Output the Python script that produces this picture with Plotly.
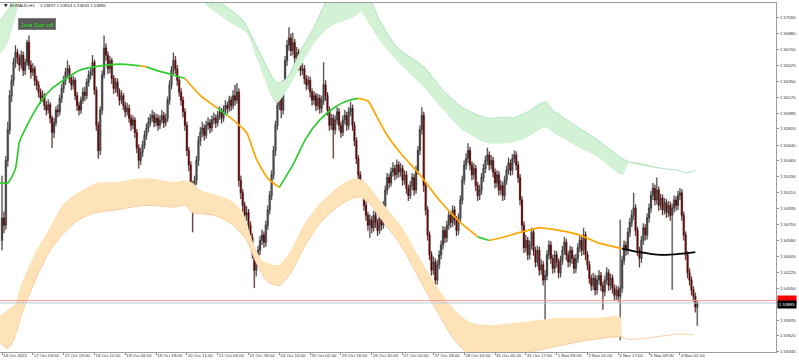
import plotly.graph_objects as go

# ---------------- DATA ----------------
bars = list(range(362))

open_ = [
1.5458,1.5483,1.5475,1.5547,1.5581,1.5619,1.5636,1.5656,1.5667,1.5661,
1.5653,1.5664,1.5647,1.5656,1.5678,1.5653,1.5645,1.5649,1.5636,1.5631,
1.5623,1.5616,1.5619,1.5608,1.5603,1.5609,1.5594,1.5578,1.5589,1.5603,
1.5601,1.5616,1.5627,1.5636,1.5645,1.5649,1.5638,1.5631,1.5636,1.5619,
1.5608,1.5603,1.5614,1.5623,1.5619,1.5634,1.5642,1.5645,1.5656,1.5625,
1.5586,1.5558,1.5603,1.5642,1.5672,1.5664,1.5649,1.5658,1.5638,1.5627,
1.5634,1.5623,1.5614,1.5619,1.5608,1.5601,1.5605,1.5594,1.5586,1.5592,
1.5578,1.5561,1.5547,1.5556,1.5564,1.5575,1.5583,1.5589,1.5594,1.5597,
1.5589,1.5594,1.5586,1.5592,1.5597,1.5589,1.5594,1.5614,1.5631,1.5647,
1.5658,1.5649,1.5636,1.5623,1.5614,1.5601,1.5586,1.5558,1.5542,1.5519,
1.5508,1.5525,1.5547,1.5569,1.5578,1.5583,1.5575,1.5586,1.5589,1.5583,
1.5592,1.5594,1.5589,1.5597,1.5601,1.5594,1.5603,1.5608,1.5605,1.5614,
1.5608,1.5619,1.5614,1.5623,1.5525,1.5511,1.5497,1.5486,1.5489,1.5475,
1.5461,1.5445,1.5425,1.5434,1.5447,1.5458,1.5464,1.5456,1.5475,1.5492,
1.5508,1.5531,1.5558,1.5586,1.5608,1.5619,1.5603,1.5631,1.5658,1.5675,
1.5683,1.5669,1.5678,1.5661,1.5667,1.5653,1.5647,1.5649,1.5638,1.5631,
1.5636,1.5623,1.5614,1.5619,1.5608,1.5616,1.5605,1.5614,1.5631,1.5619,
1.5603,1.5586,1.5594,1.5581,1.5592,1.5601,1.5586,1.5578,1.5592,1.5597,
1.5586,1.5601,1.5605,1.5586,1.5569,1.5549,1.5531,1.5514,1.5519,1.5497,
1.5486,1.5475,1.5481,1.5472,1.5486,1.5478,1.5469,1.5483,1.5475,1.5497,
1.5514,1.5528,1.5522,1.5534,1.5538,1.5531,1.5542,1.5534,1.5538,1.5525,
1.5531,1.5516,1.5508,1.5519,1.5528,1.5514,1.5536,1.5558,1.5581,1.5597,
1.5519,1.5492,1.5464,1.5442,1.5425,1.5434,1.5414,1.5431,1.5442,1.5453,
1.5469,1.5461,1.5475,1.5486,1.5478,1.5492,1.5481,1.5469,1.5483,1.5503,
1.5525,1.5542,1.5549,1.5558,1.5542,1.5531,1.5538,1.5519,1.5508,1.5514,
1.5528,1.5538,1.5547,1.5553,1.5542,1.5547,1.5534,1.5522,1.5531,1.5514,
1.5519,1.5508,1.5525,1.5536,1.5544,1.5536,1.5549,1.5553,1.5542,1.5528,
1.5503,1.5475,1.5450,1.5458,1.5442,1.5453,1.5467,1.5447,1.5434,1.5447,
1.5425,1.5431,1.5414,1.5419,1.5442,1.5453,1.5438,1.5427,1.5442,1.5434,
1.5422,1.5436,1.5447,1.5456,1.5442,1.5434,1.5447,1.5438,1.5427,1.5438,
1.5450,1.5458,1.5447,1.5464,1.5442,1.5431,1.5416,1.5408,1.5416,1.5403,
1.5414,1.5419,1.5408,1.5401,1.5414,1.5422,1.5408,1.5416,1.5405,1.5397,
1.5403,1.5396,1.5405,1.5436,1.5453,1.5447,1.5467,1.5478,1.5486,1.5494,
1.5469,1.5447,1.5438,1.5458,1.5472,1.5464,1.5483,1.5494,1.5508,1.5516,
1.5503,1.5514,1.5497,1.5505,1.5492,1.5500,1.5489,1.5497,1.5486,1.5494,
1.5503,1.5497,1.5508,1.5511,1.5486,1.5464,1.5442,1.5422,1.5414,1.5403,1.5396,1.53837]

high = [
1.5530,1.5490,1.5552,1.5590,1.5625,1.5642,1.5661,1.5675,1.5671,1.5665,
1.5669,1.5668,1.5660,1.5681,1.5686,1.5658,1.5655,1.5652,1.5641,1.5635,
1.5627,1.5625,1.5622,1.5613,1.5615,1.5612,1.5597,1.5594,1.5607,1.5609,
1.5620,1.5632,1.5641,1.5650,1.5658,1.5653,1.5642,1.5641,1.5639,1.5623,
1.5612,1.5618,1.5628,1.5629,1.5638,1.5647,1.5651,1.5664,1.5659,1.5629,
1.5590,1.5607,1.5647,1.5686,1.5677,1.5668,1.5663,1.5661,1.5642,1.5639,
1.5638,1.5627,1.5625,1.5622,1.5612,1.5611,1.5609,1.5598,1.5597,1.5595,
1.5582,1.5565,1.5561,1.5569,1.5580,1.5588,1.5595,1.5599,1.5603,1.5601,
1.5599,1.5598,1.5597,1.5603,1.5601,1.5599,1.5618,1.5636,1.5652,1.5667,
1.5663,1.5653,1.5640,1.5627,1.5618,1.5605,1.5590,1.5562,1.5546,1.5524,
1.5530,1.5552,1.5574,1.5584,1.5590,1.5587,1.5591,1.5595,1.5593,1.5597,
1.5600,1.5598,1.5602,1.5607,1.5605,1.5608,1.5614,1.5612,1.5619,1.5618,
1.5625,1.5631,1.5633,1.5627,1.5530,1.5515,1.5501,1.5496,1.5493,1.5479,
1.5466,1.5449,1.5440,1.5452,1.5463,1.5470,1.5468,1.5480,1.5497,1.5513,
1.5536,1.5563,1.5591,1.5613,1.5626,1.5623,1.5636,1.5663,1.5681,1.5695,
1.5688,1.5689,1.5682,1.5673,1.5671,1.5658,1.5655,1.5653,1.5642,1.5641,
1.5640,1.5627,1.5624,1.5622,1.5621,1.5620,1.5619,1.5656,1.5636,1.5623,
1.5607,1.5599,1.5598,1.5597,1.5606,1.5605,1.5590,1.5597,1.5603,1.5601,
1.5606,1.5612,1.5609,1.5590,1.5573,1.5553,1.5535,1.5525,1.5523,1.5501,
1.5490,1.5487,1.5485,1.5491,1.5490,1.5482,1.5488,1.5487,1.5502,1.5519,
1.5533,1.5532,1.5539,1.5545,1.5542,1.5548,1.5546,1.5544,1.5542,1.5536,
1.5535,1.5520,1.5524,1.5533,1.5532,1.5541,1.5563,1.5586,1.5606,1.5601,
1.5523,1.5496,1.5468,1.5446,1.5440,1.5438,1.5436,1.5447,1.5458,1.5474,
1.5473,1.5480,1.5491,1.5490,1.5497,1.5496,1.5485,1.5488,1.5508,1.5530,
1.5547,1.5555,1.5566,1.5562,1.5546,1.5544,1.5542,1.5523,1.5520,1.5533,
1.5543,1.5552,1.5561,1.5557,1.5553,1.5551,1.5538,1.5536,1.5535,1.5525,
1.5523,1.5530,1.5541,1.5550,1.5548,1.5554,1.5558,1.5557,1.5546,1.5532,
1.5507,1.5479,1.5464,1.5462,1.5458,1.5472,1.5471,1.5451,1.5452,1.5451,
1.5437,1.5435,1.5425,1.5447,1.5458,1.5457,1.5442,1.5447,1.5446,1.5438,
1.5441,1.5452,1.5462,1.5460,1.5446,1.5452,1.5451,1.5442,1.5443,1.5455,
1.5464,1.5462,1.5472,1.5468,1.5446,1.5435,1.5420,1.5422,1.5420,1.5419,
1.5425,1.5423,1.5412,1.5419,1.5428,1.5426,1.5421,1.5420,1.5409,1.5408,
1.5407,1.5481,1.5441,1.5458,1.5457,1.5472,1.5483,1.5492,1.5511,1.5498,
1.5473,1.5451,1.5463,1.5477,1.5476,1.5488,1.5499,1.5513,1.5522,1.5520,
1.5528,1.5518,1.5510,1.5509,1.5505,1.5504,1.5502,1.5501,1.5499,1.5508,
1.5507,1.5513,1.5516,1.5515,1.5490,1.5468,1.5446,1.5427,1.5418,1.5407,1.5400,1.53914]

low = [
1.5447,1.5466,1.5470,1.5540,1.5576,1.5612,1.5630,1.5650,1.5654,1.5646,
1.5649,1.5641,1.5642,1.5652,1.5648,1.5638,1.5641,1.5630,1.5625,1.5617,
1.5610,1.5612,1.5603,1.5597,1.5599,1.5588,1.5561,1.5572,1.5585,1.5595,
1.5597,1.5611,1.5622,1.5631,1.5640,1.5633,1.5625,1.5626,1.5614,1.5602,
1.5597,1.5599,1.5610,1.5613,1.5615,1.5629,1.5637,1.5641,1.5620,1.5580,
1.5549,1.5553,1.5598,1.5638,1.5658,1.5643,1.5644,1.5632,1.5621,1.5622,
1.5618,1.5608,1.5610,1.5603,1.5595,1.5597,1.5589,1.5580,1.5582,1.5572,
1.5555,1.5538,1.5542,1.5551,1.5560,1.5570,1.5578,1.5585,1.5590,1.5584,
1.5585,1.5580,1.5582,1.5588,1.5583,1.5585,1.5590,1.5609,1.5626,1.5642,
1.5643,1.5630,1.5618,1.5608,1.5595,1.5580,1.5552,1.5535,1.5512,1.5467,
1.5500,1.5520,1.5541,1.5563,1.5573,1.5569,1.5571,1.5581,1.5577,1.5579,
1.5587,1.5583,1.5585,1.5592,1.5588,1.5590,1.5598,1.5599,1.5601,1.5602,
1.5604,1.5608,1.5610,1.5518,1.5504,1.5490,1.5479,1.5480,1.5469,1.5454,
1.5438,1.5405,1.5418,1.5429,1.5442,1.5453,1.5450,1.5451,1.5470,1.5487,
1.5503,1.5526,1.5552,1.5581,1.5603,1.5594,1.5598,1.5626,1.5652,1.5669,
1.5663,1.5664,1.5655,1.5656,1.5647,1.5641,1.5642,1.5632,1.5625,1.5626,
1.5617,1.5608,1.5609,1.5602,1.5603,1.5599,1.5600,1.5609,1.5613,1.5597,
1.5580,1.5581,1.5549,1.5576,1.5587,1.5580,1.5572,1.5574,1.5587,1.5580,
1.5581,1.5596,1.5580,1.5563,1.5543,1.5525,1.5508,1.5509,1.5491,1.5480,
1.5469,1.5461,1.5466,1.5468,1.5472,1.5463,1.5465,1.5469,1.5471,1.5492,
1.5509,1.5516,1.5518,1.5529,1.5525,1.5527,1.5528,1.5529,1.5519,1.5520,
1.5510,1.5502,1.5504,1.5514,1.5508,1.5510,1.5531,1.5553,1.5576,1.5512,
1.5486,1.5458,1.5436,1.5419,1.5420,1.5401,1.5409,1.5426,1.5437,1.5448,
1.5455,1.5456,1.5470,1.5472,1.5473,1.5475,1.5463,1.5464,1.5478,1.5498,
1.5520,1.5537,1.5544,1.5536,1.5525,1.5526,1.5513,1.5502,1.5503,1.5509,
1.5523,1.5533,1.5542,1.5536,1.5537,1.5528,1.5516,1.5517,1.5508,1.5509,
1.5502,1.5503,1.5520,1.5531,1.5530,1.5531,1.5544,1.5536,1.5522,1.5497,
1.5469,1.5444,1.5445,1.5436,1.5437,1.5448,1.5441,1.5428,1.5429,1.5419,
1.5420,1.5408,1.5369,1.5414,1.5437,1.5432,1.5421,1.5422,1.5428,1.5416,
1.5417,1.5431,1.5442,1.5436,1.5428,1.5429,1.5432,1.5421,1.5422,1.5433,
1.5445,1.5441,1.5442,1.5436,1.5425,1.5410,1.5402,1.5403,1.5397,1.5398,
1.5409,1.5402,1.5381,1.5396,1.5409,1.5402,1.5403,1.5399,1.5391,1.5392,
1.5390,1.5347,1.5400,1.5431,1.5441,1.5442,1.5462,1.5473,1.5481,1.5463,
1.5441,1.5428,1.5433,1.5453,1.5458,1.5459,1.5478,1.5489,1.5503,1.5497,
1.5498,1.5491,1.5492,1.5486,1.5487,1.5483,1.5484,1.5480,1.5403,1.5489,
1.5491,1.5492,1.5503,1.5480,1.5458,1.5436,1.5416,1.5408,1.5397,1.5390,1.5378,1.53633]

close = [
1.5483,1.5475,1.5547,1.5581,1.5619,1.5636,1.5656,1.5667,1.5661,1.5653,
1.5664,1.5647,1.5656,1.5678,1.5653,1.5645,1.5649,1.5636,1.5631,1.5623,
1.5616,1.5619,1.5608,1.5603,1.5609,1.5594,1.5578,1.5589,1.5603,1.5601,
1.5616,1.5627,1.5636,1.5645,1.5649,1.5638,1.5631,1.5636,1.5619,1.5608,
1.5603,1.5614,1.5623,1.5619,1.5634,1.5642,1.5645,1.5656,1.5625,1.5586,
1.5558,1.5603,1.5642,1.5672,1.5664,1.5649,1.5658,1.5638,1.5627,1.5634,
1.5623,1.5614,1.5619,1.5608,1.5601,1.5605,1.5594,1.5586,1.5592,1.5578,
1.5561,1.5547,1.5556,1.5564,1.5575,1.5583,1.5589,1.5594,1.5597,1.5589,
1.5594,1.5586,1.5592,1.5597,1.5589,1.5594,1.5614,1.5631,1.5647,1.5658,
1.5649,1.5636,1.5623,1.5614,1.5601,1.5586,1.5558,1.5542,1.5519,1.5508,
1.5525,1.5547,1.5569,1.5578,1.5583,1.5575,1.5586,1.5589,1.5583,1.5592,
1.5594,1.5589,1.5597,1.5601,1.5594,1.5603,1.5608,1.5605,1.5614,1.5608,
1.5619,1.5614,1.5623,1.5525,1.5511,1.5497,1.5486,1.5489,1.5475,1.5461,
1.5445,1.5425,1.5434,1.5447,1.5458,1.5464,1.5456,1.5475,1.5492,1.5508,
1.5531,1.5558,1.5586,1.5608,1.5619,1.5603,1.5631,1.5658,1.5675,1.5683,
1.5669,1.5678,1.5661,1.5667,1.5653,1.5647,1.5649,1.5638,1.5631,1.5636,
1.5623,1.5614,1.5619,1.5608,1.5616,1.5605,1.5614,1.5631,1.5619,1.5603,
1.5586,1.5594,1.5581,1.5592,1.5601,1.5586,1.5578,1.5592,1.5597,1.5586,
1.5601,1.5605,1.5586,1.5569,1.5549,1.5531,1.5514,1.5519,1.5497,1.5486,
1.5475,1.5481,1.5472,1.5486,1.5478,1.5469,1.5483,1.5475,1.5497,1.5514,
1.5528,1.5522,1.5534,1.5538,1.5531,1.5542,1.5534,1.5538,1.5525,1.5531,
1.5516,1.5508,1.5519,1.5528,1.5514,1.5536,1.5558,1.5581,1.5597,1.5519,
1.5492,1.5464,1.5442,1.5425,1.5434,1.5414,1.5431,1.5442,1.5453,1.5469,
1.5461,1.5475,1.5486,1.5478,1.5492,1.5481,1.5469,1.5483,1.5503,1.5525,
1.5542,1.5549,1.5558,1.5542,1.5531,1.5538,1.5519,1.5508,1.5514,1.5528,
1.5538,1.5547,1.5553,1.5542,1.5547,1.5534,1.5522,1.5531,1.5514,1.5519,
1.5508,1.5525,1.5536,1.5544,1.5536,1.5549,1.5553,1.5542,1.5528,1.5503,
1.5475,1.5450,1.5458,1.5442,1.5453,1.5467,1.5447,1.5434,1.5447,1.5425,
1.5431,1.5414,1.5419,1.5442,1.5453,1.5438,1.5427,1.5442,1.5434,1.5422,
1.5436,1.5447,1.5456,1.5442,1.5434,1.5447,1.5438,1.5427,1.5438,1.5450,
1.5458,1.5447,1.5464,1.5442,1.5431,1.5416,1.5408,1.5416,1.5403,1.5414,
1.5419,1.5408,1.5401,1.5414,1.5422,1.5408,1.5416,1.5405,1.5397,1.5403,
1.5396,1.5405,1.5436,1.5453,1.5447,1.5467,1.5478,1.5486,1.5494,1.5469,
1.5447,1.5438,1.5458,1.5472,1.5464,1.5483,1.5494,1.5508,1.5516,1.5503,
1.5514,1.5497,1.5505,1.5492,1.5500,1.5489,1.5497,1.5486,1.5494,1.5503,
1.5497,1.5508,1.5511,1.5486,1.5464,1.5442,1.5422,1.5414,1.5403,1.5396,1.5384,1.53885]

for arr in (open_, high, low, close):
    assert len(arr) == len(bars), len(arr)

time_label_bars = [0, 16, 32, 48, 64, 80, 96, 112, 128, 144, 160, 176, 192,
                   208, 224, 240, 256, 272, 288, 304, 320, 336, 352]
time_labels = ["14 Oct 2022", "17 Oct 03:00", "17 Oct 19:00", "18 Oct 11:00",
               "19 Oct 03:00", "19 Oct 19:00", "20 Oct 11:00", "21 Oct 03:00",
               "21 Oct 19:00", "24 Oct 10:00", "25 Oct 02:00", "25 Oct 18:00",
               "26 Oct 10:00", "27 Oct 02:00", "27 Oct 18:00", "28 Oct 10:00",
               "31 Oct 01:00", "31 Oct 17:00", "1 Nov 09:00", "2 Nov 01:00",
               "2 Nov 17:00", "3 Nov 09:00", "4 Nov 01:00"]

price_ticks = [1.57055, 1.56880, 1.56700, 1.56525, 1.56350, 1.56170, 1.55995,
               1.55820, 1.55640, 1.55465, 1.55290, 1.55110, 1.54935, 1.54755,
               1.54580, 1.54405, 1.54225, 1.54050, 1.53695, 1.53520, 1.53345]
price_tick_labels = ["1.57055", "1.56880", "1.56700", "1.56525", "1.56350", "1.56170",
                     "1.55995", "1.55820", "1.55640", "1.55465", "1.55290", "1.55110",
                     "1.54935", "1.54755", "1.54580", "1.54405", "1.54225", "1.54050",
                     "1.53695", "1.53520", "1.53345"]

bid_price = 1.53885
ask_price = 1.53912
symbol = "EURAUD,H1"
ohlc_header = "1.53837 1.53914 1.53633 1.53885"
indicator_label = "Jma Sqz-off"

# JMA line (knots read at bars), colour state of the segment starting at each knot
jma_bar = [-1, 3, 7, 9, 13, 20, 26, 34, 40, 51, 61, 68, 72, 75, 82, 89, 95, 103, 112,
           117, 120, 127, 132, 138, 144, 151, 158, 165, 172, 179, 185, 190, 195, 200,
           207, 217, 227, 238, 247, 253, 259, 269, 279, 290, 300, 310, 322, 331, 342,
           352, 360]
jma_value = [1.5522, 1.5522, 1.5538, 1.5567, 1.5586, 1.5612, 1.5627, 1.5639, 1.5647,
             1.5652, 1.5654, 1.5653, 1.5652, 1.5651, 1.5646, 1.5642, 1.5638, 1.5619,
             1.5605, 1.5597, 1.5592, 1.5578, 1.5549, 1.5527, 1.5517, 1.5542, 1.5572,
             1.5592, 1.5605, 1.5613, 1.5616, 1.5613, 1.5594, 1.5575, 1.5555, 1.5531,
             1.5503, 1.5478, 1.5462, 1.5458, 1.5461, 1.5467, 1.5472, 1.5469, 1.5464,
             1.5455, 1.5449, 1.5445, 1.5442, 1.5443, 1.5445]
jma_state = ["up"] * 12 + ["down"] + ["up"] * 3 + ["down"] * 2 + ["up"] + ["down"] * 5 + \
            ["up"] * 6 + ["down"] * 8 + ["up"] + ["down"] * 7 + ["flat"] * 5

# Upper (green) envelope pieces: (bars, values) for upper edge and lower edge
gl_up_bar = [-1, 0, 2, 4, 7]
gl_up_val = [1.5703, 1.5705, 1.5711, 1.5718, 1.5728]
gl_lo_bar = [-1, 0, 3, 5, 8, 9]
gl_lo_val = [1.5666, 1.5668, 1.5678, 1.5691, 1.5716, 1.5729]

gm_up_bar = [110, 114, 125, 134, 143, 148, 155, 162, 168, 172]
gm_up_val = [1.5731, 1.5722, 1.5703, 1.5666, 1.5633, 1.5639, 1.5669, 1.5695, 1.5722, 1.5731]
gm_lo_bar = [103, 105, 118, 127, 132, 141, 143, 148, 153, 162, 170, 184, 191, 194]
gm_lo_val = [1.5731, 1.5722, 1.5701, 1.5689, 1.5662, 1.5614, 1.5611, 1.5625, 1.5644,
             1.5677, 1.5695, 1.5708, 1.5722, 1.5731]

gr_up_bar = [188, 192, 196, 205, 219, 229, 239, 252, 262, 265, 273, 282, 286, 299, 307,
             314, 322, 326, 343, 351, 355, 360]
gr_up_val = [1.5731, 1.5722, 1.5703, 1.5673, 1.5651, 1.5625, 1.5606, 1.5594, 1.5595,
             1.5594, 1.5601, 1.5612, 1.5603, 1.5584, 1.5573, 1.5562, 1.5549, 1.5545,
             1.5538, 1.5536, 1.5533, 1.5536]
gr_lo_bar = [181, 184, 196, 205, 219, 229, 239, 252, 265, 273, 282, 286, 299, 309, 322,
             326, 343, 351, 355, 360]
gr_lo_val = [1.5731, 1.5722, 1.5681, 1.5658, 1.5628, 1.5603, 1.5581, 1.5566, 1.5567,
             1.5573, 1.5584, 1.5578, 1.5562, 1.5551, 1.5531, 1.5545, 1.5538, 1.5536,
             1.5533, 1.5536]

# Lower (orange) envelope
ob_up_bar = [-1, 3, 7, 9, 13, 18, 25, 32, 40, 49, 60, 70, 78, 89, 95, 99, 103, 112, 120,
             125, 130, 135, 141, 144, 150, 156, 165, 174, 182, 187, 191, 196, 207, 217,
             227, 235, 243, 253, 269, 290, 310, 321, 322, 326, 340, 352, 359]
ob_up_val = [1.5375, 1.5381, 1.5388, 1.5403, 1.5425, 1.5447, 1.5473, 1.5499, 1.5512,
             1.5522, 1.5523, 1.5527, 1.5527, 1.5523, 1.5525, 1.5522, 1.5514, 1.5508,
             1.5501, 1.5489, 1.5458, 1.5436, 1.5431, 1.5431, 1.5447, 1.5473, 1.5499,
             1.5517, 1.5527, 1.5525, 1.5517, 1.5503, 1.5475, 1.5438, 1.5403, 1.5381,
             1.5367, 1.5364, 1.5367, 1.5372, 1.5372, 1.5373, 1.5351, 1.5348, 1.5351,
             1.5354, 1.5353]
ob_lo_bar = [-1, 3, 6, 11, 18, 25, 32, 40, 49, 60, 70, 78, 89, 95, 99, 110, 120, 127,
             132, 138, 144, 150, 156, 165, 174, 182, 186, 191, 196, 207, 217, 227, 235,
             243, 259, 274, 285, 304, 321, 326, 340, 352, 359]
ob_lo_val = [1.5344, 1.5338, 1.5347, 1.5381, 1.5417, 1.5447, 1.5466, 1.5481, 1.5489,
             1.5492, 1.5496, 1.5497, 1.5495, 1.5497, 1.5489, 1.5486, 1.5475, 1.5458,
             1.5433, 1.5412, 1.5408, 1.5422, 1.5447, 1.5477, 1.5495, 1.5505, 1.5506,
             1.5499, 1.5484, 1.5453, 1.5414, 1.5375, 1.5347, 1.5331, 1.5329, 1.5334,
             1.5339, 1.5347, 1.5351, 1.5348, 1.5351, 1.5354, 1.5353]

# ---------------- FIGURE ----------------
W, H = 799, 363
ML, MR, MT, MB = 0, 23, 3, 11
PW, PH = W - ML - MR, H - MT - MB


def px(x):
    return x / PW


def py(y):
    return 1 - (y - MT) / PH


FONT = "Liberation Sans"
GREEN_FILL = "#d3f2d5"
GREEN_EDGE = "#9fdcb0"
ORANGE_FILL = "#ffe3b8"
ORANGE_EDGE = "#f9c494"

fig = go.Figure()


def band(xlo, ylo, xup, yup, fill, edge, edge_on_lower):
    fig.add_trace(go.Scatter(x=xlo, y=ylo, mode="lines",
                             line=dict(color=edge if edge_on_lower else fill,
                                       width=0.8 if edge_on_lower else 0,
                                       shape="spline", smoothing=0.7),
                             hoverinfo="skip"))
    fig.add_trace(go.Scatter(x=xup, y=yup, mode="lines", fill="tonexty",
                             fillcolor=fill,
                             line=dict(color=fill if edge_on_lower else edge,
                                       width=0 if edge_on_lower else 0.8,
                                       shape="spline", smoothing=0.7),
                             hoverinfo="skip"))


band(gl_lo_bar, gl_lo_val, gl_up_bar, gl_up_val, GREEN_FILL, GREEN_EDGE, False)
band(gm_lo_bar, gm_lo_val, gm_up_bar, gm_up_val, GREEN_FILL, GREEN_EDGE, False)
band(gr_lo_bar, gr_lo_val, gr_up_bar, gr_up_val, GREEN_FILL, GREEN_EDGE, False)
band(ob_lo_bar, ob_lo_val, ob_up_bar, ob_up_val, ORANGE_FILL, ORANGE_EDGE, True)

# grey halo candles (underlay)
fig.add_trace(go.Candlestick(
    x=bars, open=open_, high=high, low=low, close=close,
    increasing=dict(line=dict(color="#cbcbcb", width=2.0), fillcolor="#cbcbcb"),
    decreasing=dict(line=dict(color="#cbcbcb", width=2.0), fillcolor="#cbcbcb"),
    whiskerwidth=0, hoverinfo="skip"))
# main candles
fig.add_trace(go.Candlestick(
    x=bars, open=open_, high=high, low=low, close=close,
    increasing=dict(line=dict(color="#2a2a2a", width=0.8), fillcolor="#8a8a8a"),
    decreasing=dict(line=dict(color="#4a0000", width=0.8), fillcolor="#9b0000"),
    whiskerwidth=0, hoverinfo="skip"))

# JMA coloured line
state_color = {"up": "#2ecc2e", "down": "#ffa500", "flat": "#000000"}
start = 0
n = len(jma_bar)
for k in range(1, n):
    if k == n - 1 or jma_state[k] != jma_state[start]:
        fig.add_trace(go.Scatter(
            x=jma_bar[start:k + 1], y=jma_value[start:k + 1], mode="lines",
            line=dict(color=state_color[jma_state[start]], width=1.7,
                      shape="spline", smoothing=0.6),
            hoverinfo="skip"))
        start = k

# bid / ask lines
fig.add_shape(type="line", xref="paper", x0=0, x1=1, yref="y", y0=ask_price, y1=ask_price,
              line=dict(color="#ff9c9c", width=1))
fig.add_shape(type="line", xref="paper", x0=0, x1=1, yref="y", y0=bid_price, y1=bid_price,
              line=dict(color="#bfc8d2", width=1))

annotations = [
    dict(xref="paper", yref="paper", x=px(2), y=py(5.5), xanchor="left", yanchor="middle",
         text="▼", showarrow=False, font=dict(family="DejaVu Sans", size=4.5, color="#222")),
    dict(xref="paper", yref="paper", x=px(8), y=py(5.5), xanchor="left", yanchor="middle",
         text=symbol, showarrow=False, font=dict(family=FONT, size=4.3, color="#222")),
    dict(xref="paper", yref="paper", x=px(38), y=py(5.5), xanchor="left", yanchor="middle",
         text=ohlc_header, showarrow=False, font=dict(family=FONT, size=4.3, color="#222")),
    dict(xref="paper", yref="paper", x=px(18), y=py(18.3), xanchor="left", yanchor="top",
         text=indicator_label, showarrow=False,
         font=dict(family=FONT, size=6.2, color="#22e022"),
         bgcolor="#595959", bordercolor="#7d7d7d", borderwidth=1, borderpad=1.6),
    dict(xref="paper", yref="y", x=1, xshift=1, y=ask_price, yshift=1, xanchor="left",
         yanchor="middle", text="1.53912", showarrow=False,
         font=dict(family=FONT, size=4.4, color="#ff0000"), bgcolor="#ff0000", borderpad=1),
    dict(xref="paper", yref="y", x=1, xshift=1, y=bid_price, yshift=-1.5, xanchor="left",
         yanchor="middle", text="1.53885", showarrow=False,
         font=dict(family=FONT, size=4.4, color="#ffffff"), bgcolor="#000000", borderpad=0.8),
]

fig.update_layout(
    width=W, height=H, margin=dict(l=ML, r=MR, t=MT, b=MB, pad=0),
    paper_bgcolor="white", plot_bgcolor="white", showlegend=False,
    annotations=annotations,
    xaxis=dict(range=[-1.04, 401.9], showgrid=False, zeroline=False,
               showline=True, linecolor="#9c9c9c", linewidth=1, mirror=True,
               ticks="outside", ticklen=2, tickcolor="#8a8a8a", tickwidth=1,
               tickvals=time_label_bars, ticktext=time_labels, tickangle=0,
               ticklabelposition="outside right", ticklabelstandoff=-1,
               tickfont=dict(family=FONT, size=4.4, color="#333"),
               rangeslider=dict(visible=False), automargin=False, fixedrange=True),
    yaxis=dict(range=[1.5334, 1.5722], side="right", showgrid=False, zeroline=False,
               showline=True, linecolor="#9c9c9c", linewidth=1, mirror=True,
               ticks="outside", ticklen=2, tickcolor="#8a8a8a", tickwidth=1,
               tickvals=price_ticks, ticktext=price_tick_labels,
               tickfont=dict(family=FONT, size=4.4, color="#333"),
               automargin=False, fixedrange=True),
)

fig.write_html("out.html")
